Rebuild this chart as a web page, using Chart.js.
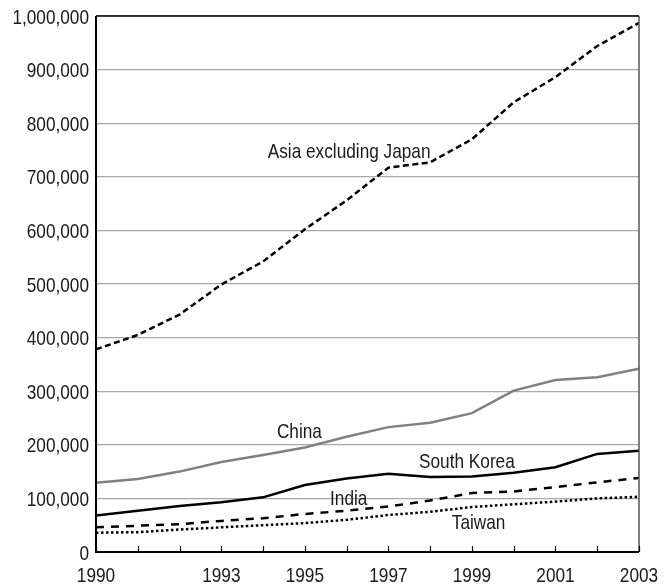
<!DOCTYPE html>
<html>
<head>
<meta charset="utf-8">
<script src="https://cdn.jsdelivr.net/npm/chart.js@4.4.1/dist/chart.umd.min.js"></script>
<style>
  html, body { margin: 0; padding: 0; background: #fff; }
  #wrap { width: 667px; height: 586px; }
</style>
</head>
<body>
<div id="wrap"><canvas id="myChart" width="667" height="586"></canvas></div>
<script>
// Data
const years = [1990, 1991, 1992, 1993, 1994, 1995, 1996, 1997, 1998, 1999, 2000, 2001, 2002, 2003];
const asiaExJapan = [378000, 405000, 443000, 499000, 542000, 602000, 656000, 717000, 727000, 770000, 839000, 886000, 944000, 987000];
const china = [129000, 136000, 150000, 168000, 181000, 195000, 215000, 233000, 241000, 259000, 301000, 321000, 326000, 342000];
const southKorea = [68000, 77000, 86000, 93000, 102000, 125000, 137000, 146000, 140000, 141000, 148000, 158000, 183000, 189000];
const india = [46000, 49000, 52000, 58000, 63000, 71000, 77000, 85000, 96000, 110000, 113000, 121000, 130000, 138000];
const taiwan = [36000, 37000, 42000, 46000, 50000, 54000, 60000, 69000, 75000, 84000, 89000, 94000, 100000, 103000];
const shownYears = [1990, 1993, 1995, 1997, 1999, 2001, 2003];
const yTicks = [0, 100000, 200000, 300000, 400000, 500000, 600000, 700000, 800000, 900000, 1000000];

// series name labels drawn inside the plot (year, value)
const seriesLabels = [
  { text: 'Asia excluding Japan', x: 1996.06, y: 749000 },
  { text: 'China', x: 1994.87, y: 227600 },
  { text: 'South Korea', x: 1998.88, y: 170700 },
  { text: 'India', x: 1996.05, y: 101700 },
  { text: 'Taiwan', x: 1999.16, y: 56000 }
];

// the original type is a tall condensed face; squeeze Liberation Sans to match
const FONT = '21px "Liberation Sans", Arial, sans-serif';
const SQUEEZE = 0.82;
const CAP = 7.5; // half cap height, to centre caps on a point

function pts(vals) {
  return vals.map((v, i) => ({ x: years[i], y: v }));
}

function squeezedText(ctx, text, x, y, align) {
  ctx.save();
  ctx.translate(x, y);
  ctx.scale(SQUEEZE, 1);
  ctx.textAlign = align;
  ctx.fillText(text, 0, 0);
  ctx.restore();
}

// frame, inward x ticks, axis labels and series labels
const decorations = {
  id: 'decorations',
  afterDatasetsDraw(chart) {
    const { ctx, chartArea: a, scales: { x, y } } = chart;
    ctx.save();
    ctx.lineWidth = 1.5;
    ctx.strokeStyle = '#555';
    ctx.beginPath();
    ctx.moveTo(a.right, a.top);
    ctx.lineTo(a.right, a.bottom);
    ctx.stroke();
    ctx.strokeStyle = '#000';
    ctx.beginPath();
    ctx.moveTo(a.left, a.top);
    ctx.lineTo(a.right, a.top);
    ctx.stroke();
    ctx.lineWidth = 2;
    ctx.beginPath();
    ctx.moveTo(a.left, a.top);
    ctx.lineTo(a.left, a.bottom);
    ctx.lineTo(a.right, a.bottom);
    ctx.stroke();
    ctx.lineWidth = 1.2;
    years.forEach(yr => {
      const px = Math.round(x.getPixelForValue(yr)) + 0.5;
      ctx.beginPath();
      ctx.moveTo(px, a.bottom);
      ctx.lineTo(px, a.bottom - 6);
      ctx.stroke();
    });

    ctx.fillStyle = '#1a1a1a';
    ctx.font = FONT;
    ctx.textBaseline = 'alphabetic';
    yTicks.forEach(v => {
      squeezedText(ctx, v.toLocaleString('en-US'), a.left - 7, y.getPixelForValue(v) + CAP, 'right');
    });
    shownYears.forEach(v => {
      squeezedText(ctx, String(v), x.getPixelForValue(v), a.bottom + 30, 'center');
    });
    seriesLabels.forEach(l => {
      squeezedText(ctx, l.text, x.getPixelForValue(l.x), y.getPixelForValue(l.y) + CAP, 'center');
    });
    ctx.restore();
  }
};

const base = { fill: false, pointRadius: 0, tension: 0, borderWidth: 2.5, borderCapStyle: 'butt' };

var ctx = document.getElementById('myChart').getContext('2d');
var chart = new Chart(ctx, {
  type: 'line',
  data: {
    datasets: [
      Object.assign({ label: 'Asia excluding Japan', data: pts(asiaExJapan), borderColor: '#000', borderDash: [6, 3.5] }, base),
      Object.assign({ label: 'China', data: pts(china), borderColor: '#808080' }, base),
      Object.assign({ label: 'South Korea', data: pts(southKorea), borderColor: '#000' }, base),
      Object.assign({ label: 'India', data: pts(india), borderColor: '#000', borderDash: [8, 7] }, base),
      Object.assign({ label: 'Taiwan', data: pts(taiwan), borderColor: '#000', borderDash: [2.5, 2.5], borderWidth: 2.8 }, base)
    ]
  },
  options: {
    responsive: false,
    animation: false,
    layout: { padding: { top: 16, right: 28, left: 0, bottom: 0 } },
    plugins: { legend: { display: false }, tooltip: { enabled: false } },
    scales: {
      x: {
        type: 'linear',
        min: 1990,
        max: 2003,
        border: { display: false },
        grid: { display: false, drawTicks: false },
        afterFit: s => { s.height = 34; },
        ticks: { display: false }
      },
      y: {
        min: 0,
        max: 1000000,
        border: { display: false },
        afterBuildTicks: s => { s.ticks = yTicks.map(v => ({ value: v })); },
        afterFit: s => { s.width = 96; },
        grid: { color: '#a8a8a8', lineWidth: 1.3, drawTicks: false },
        ticks: { display: false }
      }
    }
  },
  plugins: [decorations]
});
</script>
</body>
</html>
